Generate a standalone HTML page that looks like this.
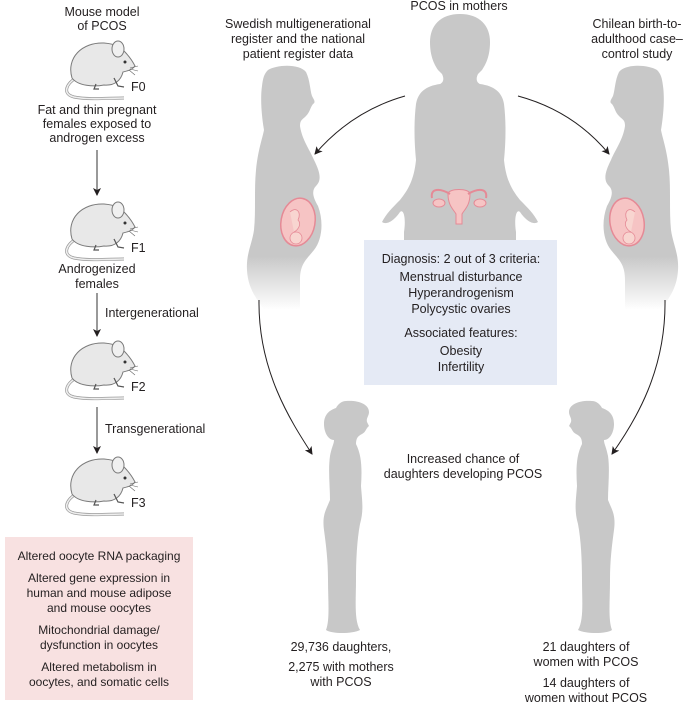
<!DOCTYPE html>
<html><head><meta charset="utf-8"><style>
body{margin:0;background:#fff}
svg{display:block}
text{font-family:"Liberation Sans",sans-serif;font-size:12.5px;fill:#231f20}
</style></head><body>
<svg width="685" height="703" viewBox="0 0 685 703" xmlns="http://www.w3.org/2000/svg">
<defs>
<linearGradient id="fadeL" x1="0" y1="0" x2="0" y2="1">
<stop offset="0" stop-color="#c8c8c8"/><stop offset="0.78" stop-color="#c8c8c8"/><stop offset="1" stop-color="#fff"/>
</linearGradient>
<marker id="ah" markerWidth="8" markerHeight="8" refX="7" refY="4" orient="auto" markerUnits="userSpaceOnUse">
<path d="M0,0 L8,4 L0,8 L2,4 z" fill="#231f20"/>
</marker>
<g id="mouse">
<path d="M76,78 C66,84 62,94 74,97 C88,100 110,98 124,98" fill="none" stroke="#9a9a9a" stroke-width="3"/>
<path d="M76,78 C66,84 62,94 74,97 C88,100 110,98 124,98" fill="none" stroke="#eee" stroke-width="1.6"/>
<path d="M72,78 C66,58 82,42 104,43 C116,44 120,47 124,51 C128,55 132,60 135,66 C132,70 127,71 123,72 C121,80 115,86 104,85 C94,87 78,86 72,78 z" fill="#e8e8e8" stroke="#7a7a7a" stroke-width="1"/>
<ellipse cx="118" cy="49" rx="6" ry="8" fill="#f0f0f0" stroke="#7a7a7a" stroke-width="1"/>
<circle cx="125" cy="62" r="1.5" fill="#333"/>
<path d="M114,78 l4,8 l6,1 M96,84 l-2,5 l5,0" fill="none" stroke="#555" stroke-width="1.2"/>
<path d="M130,68 l8,-2 M130,69 l8,2 M129,70 l6,5" stroke="#666" stroke-width="0.6"/>
</g>
</defs>

<text x="102" y="16" text-anchor="middle">Mouse model</text>
<text x="102" y="30" text-anchor="middle">of PCOS</text>
<use href="#mouse"/>
<text x="131" y="91">F0</text>
<text x="97" y="114" text-anchor="middle">Fat and thin pregnant</text>
<text x="97" y="128" text-anchor="middle">females exposed to</text>
<text x="97" y="142" text-anchor="middle">androgen excess</text>
<line x1="97" y1="150" x2="97" y2="195" stroke="#555" stroke-width="1.2" marker-end="url(#ah)"/>
<use href="#mouse" y="161"/>
<text x="131" y="252">F1</text>
<text x="97" y="273" text-anchor="middle">Androgenized</text>
<text x="97" y="288" text-anchor="middle">females</text>
<line x1="97" y1="293" x2="97" y2="336" stroke="#555" stroke-width="1.2" marker-end="url(#ah)"/>
<text x="105" y="317">Intergenerational</text>
<use href="#mouse" y="300"/>
<text x="131" y="391">F2</text>
<line x1="97" y1="407" x2="97" y2="453" stroke="#555" stroke-width="1.2" marker-end="url(#ah)"/>
<text x="105" y="433">Transgenerational</text>
<use href="#mouse" y="416"/>
<text x="131" y="507">F3</text>

<rect x="5" y="537" width="188" height="163" fill="#f8e1e1"/>
<text x="99" y="560" text-anchor="middle" style="font-size:12px">Altered oocyte RNA packaging</text>
<text x="99" y="582" text-anchor="middle" style="font-size:12px">Altered gene expression in</text>
<text x="99" y="597" text-anchor="middle" style="font-size:12px">human and mouse adipose</text>
<text x="99" y="612" text-anchor="middle" style="font-size:12px">and mouse oocytes</text>
<text x="99" y="634" text-anchor="middle" style="font-size:12px">Mitochondrial damage/</text>
<text x="99" y="649" text-anchor="middle" style="font-size:12px">dysfunction in oocytes</text>
<text x="99" y="671" text-anchor="middle" style="font-size:12px">Altered metabolism in</text>
<text x="99" y="686" text-anchor="middle" style="font-size:12px">oocytes, and somatic cells</text>

<text x="298" y="28" text-anchor="middle">Swedish multigenerational</text>
<text x="298" y="43" text-anchor="middle">register and the national</text>
<text x="298" y="58" text-anchor="middle">patient register data</text>
<text x="459" y="10" text-anchor="middle">PCOS in mothers</text>
<text x="637" y="28" text-anchor="middle">Chilean birth-to-</text>
<text x="637" y="43" text-anchor="middle">adulthood case–</text>
<text x="637" y="58" text-anchor="middle">control study</text>

<path d="M268,70 C278,64 300,64 306,72 C310,80 310,90 312,96 C314,100 316,102 313,104 C310,108 310,112 306,116 C302,120 300,120 300,126 C302,140 310,150 314,160 C320,172 322,180 316,186 C312,190 312,196 318,206 C324,222 322,240 314,250 C306,260 300,264 300,280 L300,310 L264,310 C258,300 248,290 247,270 C246,254 252,244 254,230 C256,210 254,190 256,170 C258,150 262,140 264,130 C262,118 260,100 262,86 C263,78 264,74 268,70 z" fill="url(#fadeL)"/>
<ellipse cx="298" cy="222" rx="17" ry="24" fill="#f6c4c4" stroke="#e58a96" stroke-width="1.5" transform="rotate(10 298 222)"/>
<circle cx="296" cy="238" r="6" fill="#f8d5d0" stroke="#e58a96" stroke-width="0.8"/>
<path d="M290,212 c6,-6 12,0 8,8 c4,4 0,10 -4,12" fill="#f8d5d0" stroke="#e58a96" stroke-width="0.8"/>
<g transform="translate(925 0) scale(-1 1)">
<path d="M268,70 C278,64 300,64 306,72 C310,80 310,90 312,96 C314,100 316,102 313,104 C310,108 310,112 306,116 C302,120 300,120 300,126 C302,140 310,150 314,160 C320,172 322,180 316,186 C312,190 312,196 318,206 C324,222 322,240 314,250 C306,260 300,264 300,280 L300,310 L264,310 C258,300 248,290 247,270 C246,254 252,244 254,230 C256,210 254,190 256,170 C258,150 262,140 264,130 C262,118 260,100 262,86 C263,78 264,74 268,70 z" fill="url(#fadeL)"/>
<ellipse cx="298" cy="222" rx="17" ry="24" fill="#f6c4c4" stroke="#e58a96" stroke-width="1.5" transform="rotate(10 298 222)"/>
<circle cx="296" cy="238" r="6" fill="#f8d5d0" stroke="#e58a96" stroke-width="0.8"/>
<path d="M290,212 c6,-6 12,0 8,8 c4,4 0,10 -4,12" fill="#f8d5d0" stroke="#e58a96" stroke-width="0.8"/>
</g>

<path d="M460,14 C440,14 430,26 430,42 C430,56 434,64 438,70 L442,74 C444,78 444,82 440,84 C426,86 418,92 416,104 C414,120 414,140 416,160 C414,180 408,190 400,200 C392,208 386,214 382,222 C388,226 396,218 400,212 C404,208 406,220 404,232 L404,240 L516,240 L516,232 C514,220 516,208 520,212 C524,218 532,226 538,222 C534,214 528,208 520,200 C512,190 506,180 504,160 C506,140 506,120 504,104 C502,92 494,86 480,84 C476,82 476,78 478,74 L482,70 C486,64 490,56 490,42 C490,26 480,14 460,14 z" fill="#c8c8c8"/>
<g fill="#f6c4c4" stroke="#e58a96" stroke-width="1">
<path d="M448,194 C448,188 470,188 470,194 C470,206 464,210 462,214 L462,224 L456,224 L456,214 C454,210 448,206 448,194 z"/>
<path d="M450,194 C440,188 430,188 432,198" fill="none" stroke-width="2"/>
<path d="M468,194 C478,188 488,188 486,198" fill="none" stroke-width="2"/>
<ellipse cx="439" cy="203" rx="6" ry="4"/>
<ellipse cx="480" cy="203" rx="6" ry="4"/>
</g>

<rect x="364" y="240" width="193" height="145" fill="#e5eaf5"/>
<text x="461" y="263" text-anchor="middle">Diagnosis: 2 out of 3 criteria:</text>
<text x="461" y="281" text-anchor="middle">Menstrual disturbance</text>
<text x="461" y="297" text-anchor="middle">Hyperandrogenism</text>
<text x="461" y="313" text-anchor="middle">Polycystic ovaries</text>
<text x="461" y="337" text-anchor="middle">Associated features:</text>
<text x="461" y="355" text-anchor="middle">Obesity</text>
<text x="461" y="371" text-anchor="middle">Infertility</text>

<path d="M405,96 C370,106 340,125 315,154" fill="none" stroke="#231f20" stroke-width="1" marker-end="url(#ah)"/>
<path d="M518,96 C555,106 585,125 609,154" fill="none" stroke="#231f20" stroke-width="1" marker-end="url(#ah)"/>
<path d="M259,300 C258,370 290,420 312,454" fill="none" stroke="#231f20" stroke-width="1" marker-end="url(#ah)"/>
<path d="M665,300 C666,370 636,420 612,454" fill="none" stroke="#231f20" stroke-width="1" marker-end="url(#ah)"/>

<text x="463" y="463" text-anchor="middle">Increased chance of</text>
<text x="463" y="478" text-anchor="middle">daughters developing PCOS</text>

<path d="M346,401 C358,400 369,404 369,412 C369,416 366,418 367,422 L369,426 C366,428 366,432 362,434 C358,436 356,438 356,444 C362,456 362,470 361,486 C362,500 364,510 360,524 C357,540 356,560 356,580 C356,600 354,620 360,630 C352,634 332,634 326,630 C330,620 328,600 328,580 C328,560 326,545 324,530 C322,515 326,510 330,500 C330,486 328,470 330,456 C332,446 334,444 334,440 C328,440 324,432 324,424 C324,414 330,410 336,408 C338,404 342,401 346,401 z" fill="#c8c8c8"/>
<g transform="translate(938 0) scale(-1 1)">
<path d="M346,401 C358,400 369,404 369,412 C369,416 366,418 367,422 L369,426 C366,428 366,432 362,434 C358,436 356,438 356,444 C362,456 362,470 361,486 C362,500 364,510 360,524 C357,540 356,560 356,580 C356,600 354,620 360,630 C352,634 332,634 326,630 C330,620 328,600 328,580 C328,560 326,545 324,530 C322,515 326,510 330,500 C330,486 328,470 330,456 C332,446 334,444 334,440 C328,440 324,432 324,424 C324,414 330,410 336,408 C338,404 342,401 346,401 z" fill="#c8c8c8"/>
</g>

<text x="341" y="651" text-anchor="middle">29,736 daughters,</text>
<text x="341" y="671" text-anchor="middle">2,275 with mothers</text>
<text x="341" y="686" text-anchor="middle">with PCOS</text>
<text x="586" y="651" text-anchor="middle">21 daughters of</text>
<text x="586" y="666" text-anchor="middle">women with PCOS</text>
<text x="586" y="687" text-anchor="middle">14 daughters of</text>
<text x="586" y="702" text-anchor="middle">women without PCOS</text>
</svg>
</body></html>
